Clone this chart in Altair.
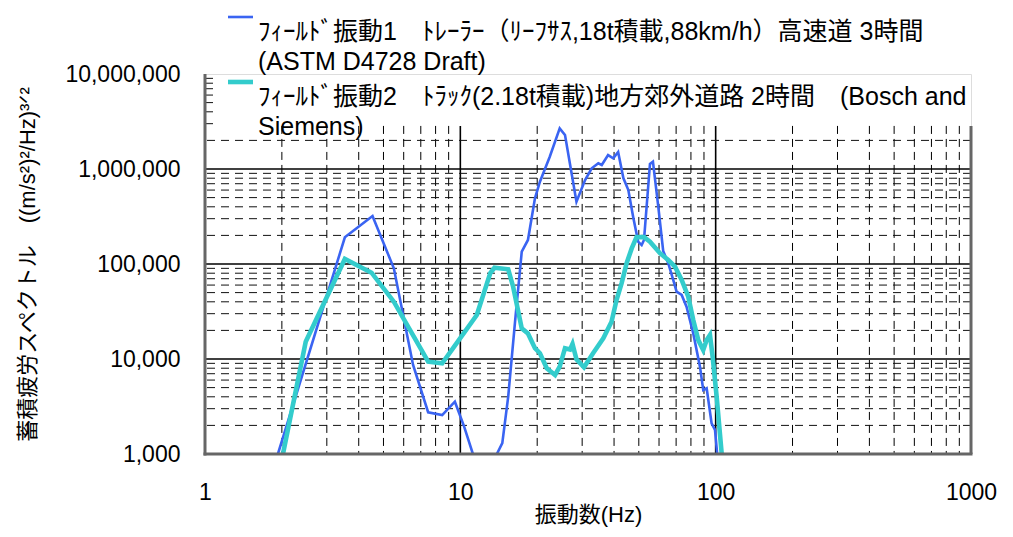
import altair as alt
import pandas as pd

# ---- data (Hz, PSD) ----
blue_freq_a = [1.93, 3.53, 4.53, 5.49, 6.53, 7.48, 8.49, 9.52, 10.35, 11.2]
blue_val_a = [1000, 191000, 320000, 90100, 8650, 2750, 2570, 3550, 1940, 1000]
blue_freq_b = [13.9, 14.6, 15.4, 16.4, 17.4, 18.4, 19.6, 20.5, 22.4, 24.5,
               25.7, 28.5, 30.8, 32.7, 34.7, 35.8, 37.9, 39.7, 41.5, 43.5,
               45.5, 47.5, 49.7, 51.3, 52.4, 55.3, 56.8, 59.6, 62.3, 65.2,
               68.2, 70.3, 73.6, 76.9, 81.7, 86.8, 89.4, 92.2, 96.4, 99.4, 101.4]
blue_val_b = [1000, 1300, 4010, 25700, 135000, 179000, 492000, 735000, 1346000, 2680000,
              2280000, 453000, 766000, 1017000, 1148000, 1102000, 1403000, 1297000, 1510000, 804000,
              601000, 315000, 172000, 158000, 179000, 1130000, 1194000, 401000, 137000, 102000,
              67900, 51100, 47200, 35500, 18600, 8300, 4720, 4920, 2100, 1790, 1000]
cyan_freq = [2.02, 2.48, 3.53, 4.49, 5.49, 7.48, 8.49, 9.66, 11.6, 13.1,
             13.6, 15.4, 16.1, 17.4, 18.4, 19.6, 20.5, 21.8, 23.5, 24.5,
             25.7, 26.9, 27.5, 28.5, 30.5, 33.1, 36.3, 39.1, 40.9, 42.8,
             44.8, 46.9, 49.0, 52.4, 55.3, 60.5, 65.2, 69.3, 73.6, 78.1,
             81.7, 85.5, 89.4, 92.2, 95.0, 97.3, 100.9, 105.6]
cyan_val = [1000, 15200, 113000, 81000, 40100, 9370, 9010, 14600, 29000, 80400,
            91400, 88000, 57700, 21000, 18600, 13000, 11500, 7980, 6790, 8300,
            13000, 12600, 14400, 9930, 8180, 11500, 16500, 24700, 41800, 62600,
            102000, 146000, 192000, 192000, 172000, 130000, 110000, 93700, 67900, 45300,
            25700, 15800, 12400, 15800, 17900, 10600, 4010, 1000]

series_names = ["field1", "field2"]
series_colors = ["#3A64F2", "#33CCCC"]
legend_lines = [
    ["ﾌｨｰﾙﾄﾞ振動1　ﾄﾚｰﾗｰ（ﾘｰﾌｻｽ,18t積載,88km/h）高速道 3時間", "(ASTM D4728 Draft)"],
    ["ﾌｨｰﾙﾄﾞ振動2　ﾄﾗｯｸ(2.18t積載)地方郊外道路 2時間　(Bosch and", "Siemens)"],
]

x_ticks = [1, 10, 100, 1000]
y_ticks = [1000, 10000, 100000, 1000000, 10000000]
x_major = [10, 100]
x_minor = [2, 3, 4, 5, 6, 7, 8, 9, 20, 30, 40, 50, 60, 70, 80, 90,
           200, 300, 400, 500, 600, 700, 800, 900]
y_major = [10000, 100000, 1000000]
y_minor = [2000, 3000, 4000, 5000, 6000, 7000, 8000, 9000,
           20000, 30000, 40000, 50000, 60000, 70000, 80000, 90000,
           200000, 300000, 400000, 500000, 600000, 700000, 800000, 900000,
           2000000]
# grid lines hidden behind the legend box (only their first dash shows at the left edge)
y_minor_stub = [3000000, 4000000, 5000000, 6000000, 7000000, 8000000, 9000000]
# vertical grid lines run from the bottom of the plot up to the legend box
grid_bottom = 1000
grid_top = 2840000

rows = []
for f, v in zip(blue_freq_a, blue_val_a):
    rows.append({"f": f, "v": v, "series": series_names[0], "seg": "a"})
for f, v in zip(blue_freq_b, blue_val_b):
    rows.append({"f": f, "v": v, "series": series_names[0], "seg": "b"})
for f, v in zip(cyan_freq, cyan_val):
    rows.append({"f": f, "v": v, "series": series_names[1], "seg": "c"})
df = pd.DataFrame(rows)

FONT = "Liberation Sans, Arial, Noto Sans CJK JP, sans-serif"
W, H = 766, 380

xscale = alt.Scale(type="log", domain=[1, 1000], nice=False)
yscale = alt.Scale(type="log", domain=[1000, 10000000], nice=False)

xaxis = alt.Axis(values=x_ticks, format="d", grid=False, domain=False, ticks=False,
                 tickSize=0, labelPadding=27, labelFontSize=23, labelFlush=False,
                 labelOverlap=False, labelColor="black", title="振動数(Hz)",
                 titleFontSize=22, titleFontWeight="normal", titleColor="black",
                 titlePadding=0, labelFont=FONT, titleFont=FONT)
yaxis = alt.Axis(values=y_ticks, format=",d", grid=False, domain=False, ticks=False,
                 tickSize=0, labelPadding=25, labelFontSize=23, labelFlush=False,
                 labelOverlap=False, labelColor="black",
                 title="蓄積疲労スペクトル　((m/s²)²/Hz)³ᐟ²",
                 titleFontSize=22, titleFontWeight="normal", titleColor="black",
                 titlePadding=25, labelFont=FONT, titleFont=FONT)

X = alt.X("f:Q", scale=xscale, axis=xaxis)
Y = alt.Y("v:Q", scale=yscale, axis=yaxis)
Y2 = alt.Y2("v2:Q")

def vgrid(values):
    return pd.DataFrame({"f": values, "v": [grid_top] * len(values), "v2": [grid_bottom] * len(values)})

vmin = alt.Chart(vgrid(x_minor)).mark_rule(
    color="black", strokeWidth=1, strokeDash=[8, 5]).encode(x=X, y=Y, y2=Y2)
vmaj = alt.Chart(vgrid(x_major)).mark_rule(
    color="black", strokeWidth=1.6).encode(x=X, y=Y, y2=Y2)
hmin = alt.Chart(pd.DataFrame({"v": y_minor})).mark_rule(
    color="#111111", strokeWidth=1, strokeDash=[8, 6]).encode(y=Y)
hstub = alt.Chart(pd.DataFrame({"v": y_minor_stub})).mark_rule(
    color="#111111", strokeWidth=1).encode(y=Y, x=alt.value(0), x2=alt.value(8))
hmaj = alt.Chart(pd.DataFrame({"v": y_major})).mark_rule(
    color="black", strokeWidth=1.6).encode(y=Y)

lines = alt.Chart(df).mark_line(clip=True).encode(
    x=X, y=Y,
    color=alt.Color("series:N", scale=alt.Scale(domain=series_names, range=series_colors), legend=None),
    strokeWidth=alt.StrokeWidth("series:N", scale=alt.Scale(domain=series_names, range=[2.6, 4.6]), legend=None),
    detail="seg:N",
)

one = pd.DataFrame({"a": [0]})
frame_left = alt.Chart(one).mark_rule(color="#666666", strokeWidth=3).encode(
    x=alt.value(0), y=alt.value(0), y2=alt.value(H + 1.5))
frame_bottom = alt.Chart(one).mark_rule(color="#666666", strokeWidth=3).encode(
    x=alt.value(-1.5), x2=alt.value(W + 1.5), y=alt.value(H))
frame_right = alt.Chart(vgrid([1000])).mark_rule(color="#666666", strokeWidth=3).encode(
    x=X, y=Y, y2=Y2)

leg_sym1 = alt.Chart(one).mark_rule(color=series_colors[0], strokeWidth=2.6).encode(
    x=alt.value(23), x2=alt.value(48), y=alt.value(-57))
leg_sym2 = alt.Chart(one).mark_rule(color=series_colors[1], strokeWidth=4.6).encode(
    x=alt.value(23), x2=alt.value(48), y=alt.value(8))
leg_txt1 = alt.Chart(one).mark_text(text=legend_lines[0], align="left", baseline="middle",
                                    fontSize=25, lineHeight=30, font=FONT, color="black").encode(
    x=alt.value(53), y=alt.value(-42))
leg_txt2 = alt.Chart(one).mark_text(text=legend_lines[1], align="left", baseline="middle",
                                    fontSize=25, lineHeight=30, font=FONT, color="black").encode(
    x=alt.value(53), y=alt.value(23))

chart = alt.layer(vmin, vmaj, hmin, hstub, hmaj, lines, frame_left, frame_bottom, frame_right,
                  leg_sym1, leg_sym2, leg_txt1, leg_txt2).properties(
    width=W, height=H,
    autosize=alt.AutoSizeParams(type="none"),
    padding={"left": 197, "top": 66, "right": 30, "bottom": 74},
).configure_view(stroke="transparent").configure_axis(grid=False).configure(
    font=FONT, background="white")

chart.save("out.html", embed_options={"renderer": "svg", "actions": False})
